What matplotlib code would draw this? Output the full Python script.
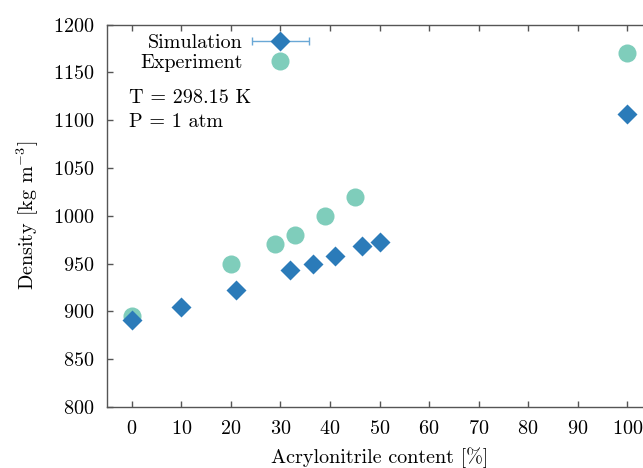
import matplotlib
matplotlib.use("Agg")
import matplotlib.pyplot as plt
from matplotlib.legend_handler import HandlerErrorbar
import numpy as np

plt.rcParams['font.family'] = 'serif'
plt.rcParams['font.serif'] = ['cmr10']
plt.rcParams['mathtext.fontset'] = 'cm'
plt.rcParams['axes.formatter.use_mathtext'] = True
plt.rcParams['axes.unicode_minus'] = False
plt.rcParams['font.size'] = 14.5

sim_x = [0, 10, 21, 32, 36.5, 41, 46.5, 50, 100]
sim_y = [891, 905, 922, 943, 950, 958, 968, 973, 1106]
sim_xerr = [0, 0, 0, 0, 0, 0, 0, 0, 0]

exp_x = [0, 20, 29, 33, 39, 45, 100]
exp_y = [895, 950, 970, 980, 1000, 1020, 1170]

xticks = [0, 10, 20, 30, 40, 50, 60, 70, 80, 90, 100]
yticks = [800, 850, 900, 950, 1000, 1050, 1100, 1150, 1200]

sim_color = '#2b7bb9'
err_color = '#6aa8d6'
exp_color = '#7fcdbb'

fig = plt.figure(figsize=(6.43, 4.68), dpi=100)
ax = fig.add_axes([107/643, 61/468, 545/643, 382.5/468])

sim = ax.errorbar(sim_x, sim_y, xerr=sim_xerr, fmt='D', ms=10, color=sim_color,
                  ecolor=err_color, elinewidth=1, capsize=3, capthick=1,
                  mec='none', label='Simulation', zorder=3)
exp, = ax.plot(exp_x, exp_y, 'o', ms=13, color=exp_color, mec='none',
               label='Experiment', zorder=2, linestyle='none')

ax.set_xlim(-5, 105)
ax.set_ylim(800, 1200)
ax.set_xticks(xticks)
ax.set_yticks(yticks)
ax.tick_params(direction='in', top=True, right=False, length=4, width=1,
               color='#555555', labelsize=14.5, pad=9)
for s in ['left', 'bottom', 'top']:
    ax.spines[s].set_color('#555555')
    ax.spines[s].set_linewidth(1)
ax.spines['right'].set_visible(False)

ax.set_xlabel('Acrylonitrile content [%]', fontsize=14.5, labelpad=7)
ax.set_ylabel(r'Density [kg m$^{-3}$]', fontsize=14.5, labelpad=9)

leg = ax.legend([sim, exp], ['Simulation', 'Experiment'],
                loc='upper right', bbox_to_anchor=(0.407, 1.022), frameon=False,
                markerfirst=False, handlelength=3, handletextpad=0.4,
                labelspacing=0.1, fontsize=14.5,
                handler_map={type(sim): HandlerErrorbar(xerr_size=1.4)})
for t in leg.get_texts():
    t.set_ha('right')

ax.text(0.04, 0.808, 'T = 298.15 K', transform=ax.transAxes, va='center', fontsize=14.5)
ax.text(0.04, 0.746, 'P = 1 atm', transform=ax.transAxes, va='center', fontsize=14.5)

fig.savefig('out.png', dpi=100)
